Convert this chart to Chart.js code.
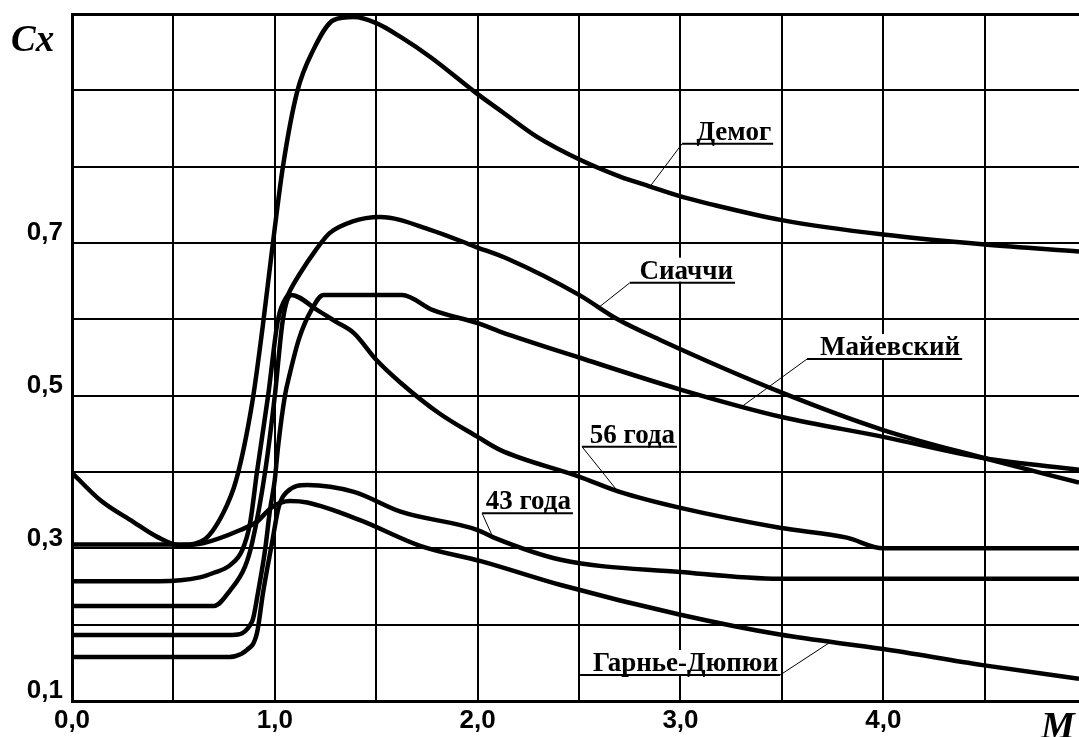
<!DOCTYPE html>
<html>
<head>
<meta charset="utf-8">
<script src="https://cdn.jsdelivr.net/npm/chart.js@4.4.1/dist/chart.umd.min.js"></script>
<style>
  html, body { margin: 0; padding: 0; background: #fff; }
  canvas { display: block; }
</style>
</head>
<body>
<canvas id="cx" width="1079" height="737"></canvas>
<script>
// Cx(M) drag laws
const demogM   = [0, 0.55, 0.65, 0.745, 0.81, 0.888, 0.94, 0.986, 1.04, 1.11, 1.19, 1.29, 1.39, 1.50, 1.62, 1.77, 1.99, 2.125, 2.293, 2.505, 2.702, 2.85, 3.0, 3.146, 3.5, 4.0, 4.5, 4.965];
const demogCx  = [0.305, 0.305, 0.311, 0.346, 0.39, 0.49, 0.59, 0.69, 0.80, 0.898, 0.953, 0.992, 0.996, 0.988, 0.97, 0.943, 0.897, 0.871, 0.839, 0.809, 0.787, 0.774, 0.761, 0.751, 0.73, 0.711, 0.698, 0.689];

const siacciM  = [0, 0.43, 0.63, 0.70, 0.78, 0.84, 0.878, 0.912, 0.967, 1.016, 1.07, 1.124, 1.2, 1.27, 1.38, 1.52, 1.77, 1.99, 2.15, 2.5, 2.69, 2.9, 3.5, 4.0, 4.5, 4.965];
const siacciCx = [0.257, 0.257, 0.262, 0.268, 0.278, 0.298, 0.333, 0.40, 0.50, 0.60, 0.635, 0.66, 0.69, 0.713, 0.728, 0.734, 0.717, 0.695, 0.679, 0.632, 0.60, 0.573, 0.504, 0.455, 0.418, 0.386];

const maiM     = [0, 0.79, 0.888, 0.917, 0.952, 0.976, 1.0, 1.016, 1.05, 1.075, 1.12, 1.18, 1.24, 1.627, 1.78, 2.0, 2.11, 2.5, 3.0, 3.5, 4.0, 4.5, 4.965];
const maiCx    = [0.1865, 0.1865, 0.204, 0.242, 0.298, 0.35, 0.39, 0.433, 0.50, 0.53, 0.575, 0.612, 0.632, 0.632, 0.612, 0.595, 0.584, 0.55, 0.508, 0.472, 0.446, 0.418, 0.403];

const g56M     = [0, 0.70, 0.78, 0.853, 0.888, 0.952, 1.0, 1.04, 1.08, 1.21, 1.30, 1.39, 1.50, 1.62, 1.81, 2.0, 2.11, 2.5, 2.7, 3.0, 3.49, 3.82, 4.0, 4.965];
const g56Cx    = [0.2245, 0.2245, 0.245, 0.276, 0.307, 0.40, 0.50, 0.60, 0.632, 0.612, 0.597, 0.582, 0.547, 0.517, 0.477, 0.446, 0.429, 0.394, 0.374, 0.353, 0.327, 0.314, 0.30, 0.30];

const g43M     = [0, 0.745, 0.863, 0.912, 0.942, 0.986, 1.02, 1.06, 1.16, 1.39, 1.62, 2.0, 2.08, 2.41, 3.0, 3.49, 4.965];
const g43Cx    = [0.1575, 0.1575, 0.167, 0.189, 0.242, 0.307, 0.355, 0.374, 0.383, 0.374, 0.348, 0.324, 0.314, 0.285, 0.269, 0.26, 0.26];

const garM     = [0, 0.14, 0.30, 0.42, 0.53, 0.65, 0.83, 0.912, 0.986, 1.075, 1.16, 1.42, 1.72, 2.02, 2.41, 3.0, 3.49, 4.0, 4.49, 4.965];
const garCx    = [0.399, 0.363, 0.335, 0.315, 0.304, 0.307, 0.324, 0.335, 0.354, 0.362, 0.36, 0.337, 0.303, 0.283, 0.252, 0.213, 0.187, 0.168, 0.147, 0.129];

// grid / tick labels
const xTicks      = [0, 0.5, 1, 1.5, 2, 2.5, 3, 3.5, 4, 4.5];
const xTickLabels = ['0,0', '', '1,0', '', '2,0', '', '3,0', '', '4,0', ''];
const yTicks      = [0.1, 0.2, 0.3, 0.4, 0.5, 0.6, 0.7, 0.8, 0.9, 1.0];
const yTickLabels = ['0,1', '', '0,3', '', '0,5', '', '0,7', '', '', ''];

// curve captions: underline from x1 to x2 at y, leader to the curve
const curveLabels = [
  { text: 'Демог',        x1: 3.008, x2: 3.457, y: 0.830, tipX: 2.850, tipY: 0.774, from: 'left' },
  { text: 'Сиаччи',       x1: 2.751, x2: 3.269, y: 0.648, tipX: 2.594, tipY: 0.615, from: 'left' },
  { text: 'Майевский',    x1: 3.624, x2: 4.389, y: 0.548, tipX: 3.309, tipY: 0.487, from: 'left' },
  { text: '56 года',      x1: 2.515, x2: 2.983, y: 0.433, tipX: 2.687, tipY: 0.376, from: 'left' },
  { text: '43 года',      x1: 2.022, x2: 2.470, y: 0.346, tipX: 2.076, tipY: 0.314, from: 'left' },
  { text: 'Гарнье-Дюпюи', x1: 2.505, x2: 3.491, y: 0.134, tipX: 3.738, tipY: 0.177, from: 'right' }
];

function series(ms, cs) {
  return ms.map((m, i) => ({ x: m, y: cs[i] }));
}

function line(ms, cs) {
  return {
    data: series(ms, cs),
    borderColor: '#000',
    borderWidth: 4.5,
    pointRadius: 0,
    fill: false,
    cubicInterpolationMode: 'monotone'
  };
}

const labelPlugin = {
  id: 'curveLabels',
  afterDatasetsDraw(chart) {
    const ctx = chart.ctx;
    const x = chart.scales.x, y = chart.scales.y;
    ctx.save();
    ctx.font = 'bold 27px "Liberation Serif"';
    ctx.textBaseline = 'alphabetic';
    curveLabels.forEach(l => {
      const px1 = x.getPixelForValue(l.x1);
      const px2 = x.getPixelForValue(l.x2);
      const py = y.getPixelForValue(l.y);
      const w = ctx.measureText(l.text).width;
      const tx = px2 - 2 - w;
      ctx.fillStyle = '#fff';
      ctx.fillRect(tx - 2, py - 25, w + 4, 24);
      ctx.fillStyle = '#000';
      ctx.fillText(l.text, tx, py - 4);
      ctx.strokeStyle = '#000';
      ctx.lineWidth = 2;
      ctx.beginPath();
      ctx.moveTo(px1, py);
      ctx.lineTo(px2, py);
      ctx.stroke();
      const sx = l.from === 'left' ? px1 : px2;
      ctx.lineWidth = 1;
      ctx.beginPath();
      ctx.moveTo(sx, py);
      ctx.lineTo(x.getPixelForValue(l.tipX), y.getPixelForValue(l.tipY));
      ctx.stroke();
    });
    // axis names
    ctx.fillStyle = '#000';
    ctx.font = 'italic bold 37px "Liberation Serif"';
    ctx.fillText('Cx', 11, 51);
    ctx.font = 'italic bold 38px "Liberation Serif"';
    ctx.fillText('M', 1041, 738);
    ctx.restore();
  }
};

new Chart(document.getElementById('cx'), {
  type: 'line',
  data: {
    datasets: [
      line(demogM, demogCx),
      line(siacciM, siacciCx),
      line(maiM, maiCx),
      line(g56M, g56Cx),
      line(g43M, g43Cx),
      line(garM, garCx)
    ]
  },
  options: {
    responsive: false,
    animation: false,
    layout: { padding: { top: 14, right: 0, left: 0, bottom: 0 } },
    plugins: { legend: { display: false }, tooltip: { enabled: false } },
    scales: {
      x: {
        type: 'linear',
        min: 0,
        max: 4.965,
        afterBuildTicks: s => { s.ticks = xTicks.map(v => ({ value: v })); },
        afterFit: s => { s.height = 36; s.paddingLeft = 0; s.paddingRight = 0; },
        grid: { color: '#000', lineWidth: 2, drawTicks: false },
        border: { display: true, color: '#000', width: 3 },
        ticks: {
          color: '#000',
          padding: 4,
          maxRotation: 0,
          autoSkip: false,
          font: { family: 'Liberation Sans', weight: 'bold', size: 26 },
          callback: (v, i) => xTickLabels[i]
        }
      },
      y: {
        type: 'linear',
        min: 0.1,
        max: 1.0,
        afterBuildTicks: s => { s.ticks = yTicks.map(v => ({ value: v })); },
        afterFit: s => { s.width = 72; s.paddingTop = 0; s.paddingBottom = 0; },
        grid: {
          color: '#000',
          drawTicks: false,
          lineWidth: c => (c.index === yTicks.length - 1 ? 3 : 2)
        },
        border: { display: true, color: '#000', width: 3 },
        ticks: {
          color: '#000',
          padding: 9,
          labelOffset: -10,
          autoSkip: false,
          font: { family: 'Liberation Sans', weight: 'bold', size: 26 },
          callback: (v, i) => yTickLabels[i]
        }
      }
    }
  },
  plugins: [labelPlugin]
});
</script>
</body>
</html>
